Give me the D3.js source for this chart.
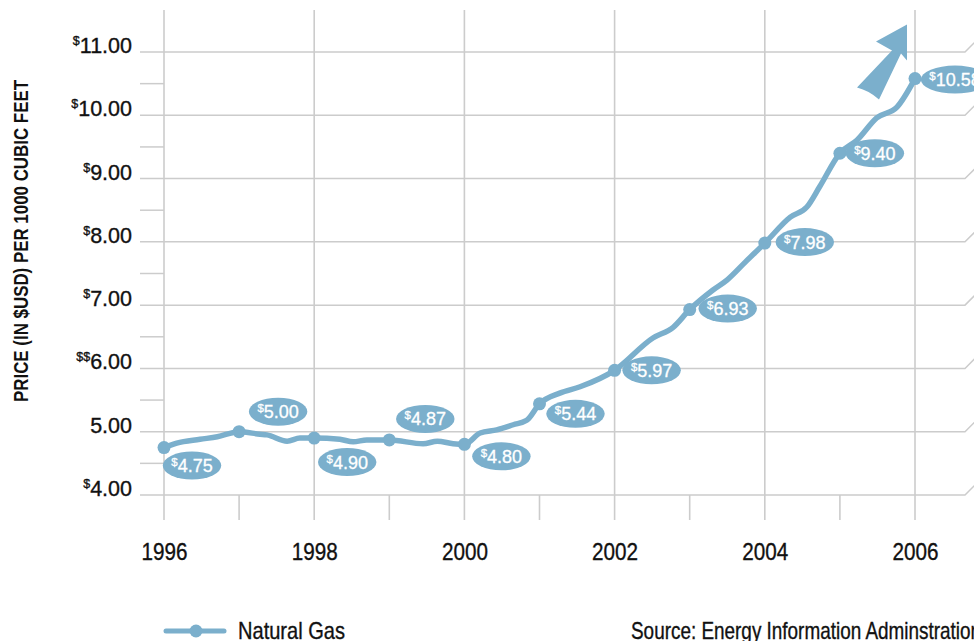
<!DOCTYPE html>
<html>
<head>
<meta charset="utf-8">
<script src="https://cdn.jsdelivr.net/npm/d3@7"></script>
<style>
  body { margin: 0; background: #fff; }
  svg { display: block; }
  .plain { font-family: "Liberation Sans", Arial, sans-serif; }
</style>
</head>
<body>
<svg id="svgGas" width="974" height="641"></svg>
<script>
// annual prices shown with a label
var years = [1996, 1997, 1998, 1999, 2000, 2001, 2002, 2003, 2004, 2005, 2006];
var yearPrices = [4.75, 5.00, 4.90, 4.87, 4.80, 5.44, 5.97, 6.93, 7.98, 9.40, 10.58];

// the wiggly trend line between the labelled points
var trendDates = [1996, 1996.17, 1996.48, 1996.71, 1997, 1997.28, 1997.37, 1997.64, 1997.81,
                  1998, 1998.34, 1998.52, 1998.70, 1999, 1999.45, 1999.64, 1999.85,
                  2000, 2000.21, 2000.43, 2000.65, 2000.83, 2001, 2001.27, 2001.54,
                  2002, 2002.51, 2002.78, 2003, 2003.31, 2003.50, 2003.74,
                  2004, 2004.34, 2004.56, 2004.73, 2005, 2005.23, 2005.49, 2005.76, 2006];
var trendPrices = [4.75, 4.82, 4.88, 4.92, 5.00, 4.96, 4.95, 4.85, 4.90,
                   4.90, 4.88, 4.84, 4.87, 4.87, 4.81, 4.85, 4.81,
                   4.80, 4.98, 5.03, 5.11, 5.18, 5.44, 5.61, 5.71,
                   5.97, 6.48, 6.65, 6.93, 7.24, 7.40, 7.68,
                   7.98, 8.39, 8.55, 8.87, 9.40, 9.61, 9.96, 10.13, 10.58];

// axis ticks
var priceTicks = [11, 10, 9, 8, 7, 6, 5, 4];
var tickPrefix = ["$", "$", "$", "$", "$", "$$", "", "$"];
var yearTicks = [1996, 1998, 2000, 2002, 2004, 2006];

var blue = "#7bafcc",
    grid = "#cccccc";

function dibujarGrafico() {
    var svg = d3.select("#svgGas");

    var x = d3.scaleLinear().domain([1996, 2006]).range([164, 915]),
        y = d3.scaleLinear().domain([4, 11]).range([495, 52]);

    var g = svg.append("g").attr("class", "grid");

    // horizontal grid with the little bent end on the right
    g.selectAll(".hline")
     .data(priceTicks)
     .enter().append("path")
     .attr("class", "hline")
     .attr("d", function(d) {
         return "M140," + y(d) + "H965l25,-25";
     })
     .attr("fill", "none")
     .attr("stroke", grid)
     .attr("stroke-width", 1.5);

    // half-dollar ticks only on the left
    g.selectAll(".half")
     .data(priceTicks.slice(1))
     .enter().append("line")
     .attr("x1", 140).attr("x2", x(1996))
     .attr("y1", function(d) { return y(d + 0.5); })
     .attr("y2", function(d) { return y(d + 0.5); })
     .attr("stroke", grid)
     .attr("stroke-width", 1.5);

    // vertical grid: even years full height, odd years short ticks
    g.selectAll(".vline")
     .data(years)
     .enter().append("line")
     .attr("x1", function(d) { return x(d); })
     .attr("x2", function(d) { return x(d); })
     .attr("y1", function(d) { return d % 2 === 0 ? 10 : y(4); })
     .attr("y2", 520)
     .attr("stroke", grid)
     .attr("stroke-width", 1.6);

    // y tick labels with a small raised dollar sign
    var yl = svg.append("g").attr("class", "plain");
    var lab = yl.selectAll(".ylab")
       .data(priceTicks)
       .enter().append("text")
       .attr("x", 132)
       .attr("y", function(d) { return y(d) + 1; })
       .attr("text-anchor", "end")
       .attr("fill", "#111")
       .attr("stroke", "#111")
       .attr("stroke-width", 0.35)
       .attr("font-size", "21.5px");
    lab.append("tspan")
       .attr("font-size", "12.5px")
       .attr("dy", -8)
       .text(function(d, i) { return tickPrefix[i]; });
    lab.append("tspan")
       .attr("dy", function(d, i) { return tickPrefix[i] ? 8 : 0; })
       .text(function(d) { return d3.format(".2f")(d); });

    // x axis labels
    var ax = svg.append("g")
       .attr("transform", "translate(0,543)")
       .call(d3.axisBottom(x).tickValues(yearTicks).tickSize(0).tickPadding(0).tickFormat(d3.format("d")));
    ax.select(".domain").remove();
    ax.selectAll("text")
      .attr("font-family", "Liberation Sans, Arial, sans-serif")
      .attr("font-size", "24px")
      .attr("textLength", 46)
      .attr("lengthAdjust", "spacingAndGlyphs")
      .attr("stroke", "#111")
      .attr("stroke-width", 0.35)
      .attr("fill", "#111");

    // y title
    svg.append("text")
       .attr("class", "plain")
       .attr("transform", "translate(28,241) rotate(-90)")
       .attr("text-anchor", "middle")
       .attr("font-weight", "bold")
       .attr("font-size", "20.5px")
       .attr("textLength", 322)
       .attr("lengthAdjust", "spacingAndGlyphs")
       .attr("fill", "#111")
       .text("PRICE (IN $USD) PER 1000 CUBIC FEET");

    // the line
    var linea = d3.line()
        .x(function(d) { return x(d[0]); })
        .y(function(d) { return y(d[1]); })
        .curve(d3.curveMonotoneX);

    svg.append("path")
       .datum(d3.zip(trendDates, trendPrices))
       .attr("d", linea)
       .attr("fill", "none")
       .attr("stroke", blue)
       .attr("stroke-width", 5.5)
       .attr("stroke-linejoin", "round")
       .attr("stroke-linecap", "round");

    // rising arrow next to the last point
    var px = x(2006), py = y(10.58);
    svg.append("path")
       .attr("transform", "translate(" + px + "," + py + ")")
       .attr("d", "M-8,-54L-39,-37L-23,-28L-58,9Q-46,12,-36,21L-14,-25L-8,-18Z")
       .attr("fill", blue);

    svg.selectAll(".punto")
       .data(years)
       .enter().append("circle")
       .attr("class", "punto")
       .attr("cx", function(d) { return x(d); })
       .attr("cy", function(d, i) { return y(yearPrices[i]); })
       .attr("r", 6.5)
       .attr("fill", blue);

    // value bubbles, offset from each point
    var offsets = [[28, 18], [39, -20], [33, 24], [36, -21], [37, 12], [36, 10],
                   [37, 0], [38, -1], [40, -1], [35, 0], [40, 1]];

    var burbuja = svg.selectAll(".burbuja")
       .data(years)
       .enter().append("g")
       .attr("class", "burbuja plain")
       .attr("transform", function(d, i) {
           return "translate(" + (x(d) + offsets[i][0]) + "," + (y(yearPrices[i]) + offsets[i][1]) + ")";
       });

    var elip = burbuja.append("ellipse").attr("fill", blue).attr("ry", 14);

    var txt = burbuja.append("text")
       .attr("text-anchor", "middle")
       .attr("y", 6.5)
       .attr("fill", "#fff")
       .attr("stroke", "#fff")
       .attr("stroke-width", 0.3)
       .attr("font-size", "18px");
    txt.append("tspan").attr("font-size", "11.5px").attr("dy", -6).text("$");
    txt.append("tspan").attr("dy", 6).text(function(d, i) { return d3.format(".2f")(yearPrices[i]); });

    elip.attr("rx", function() {
        var w = this.parentNode.querySelector("text").getComputedTextLength();
        return w / 2 + 8.5;
    });

    // legend and source
    var ley = svg.append("g").attr("class", "plain");
    ley.append("line")
       .attr("x1", 166).attr("x2", 224)
       .attr("y1", 631).attr("y2", 631)
       .attr("stroke", blue).attr("stroke-width", 5).attr("stroke-linecap", "round");
    ley.append("circle").attr("cx", 196).attr("cy", 631).attr("r", 6.5).attr("fill", blue);
    ley.append("text")
       .attr("x", 238).attr("y", 639)
       .attr("font-size", "24px")
       .attr("textLength", 107)
       .attr("lengthAdjust", "spacingAndGlyphs")
       .attr("stroke", "#111")
       .attr("stroke-width", 0.35)
       .attr("fill", "#111")
       .text("Natural Gas");
    ley.append("text")
       .attr("x", 631).attr("y", 639)
       .attr("font-size", "24px")
       .attr("textLength", 350)
       .attr("lengthAdjust", "spacingAndGlyphs")
       .attr("stroke", "#111")
       .attr("stroke-width", 0.35)
       .attr("fill", "#111")
       .text("Source: Energy Information Adminstration");
}

dibujarGrafico();
</script>
</body>
</html>
